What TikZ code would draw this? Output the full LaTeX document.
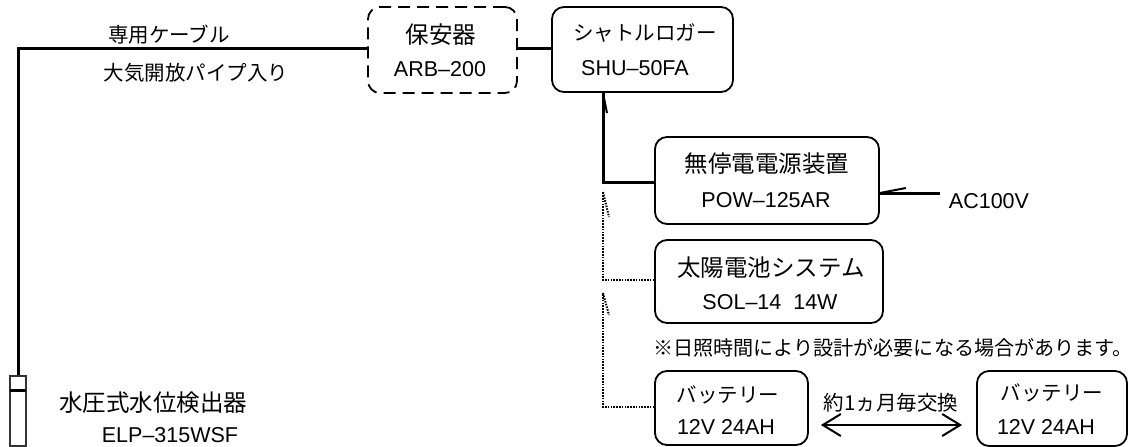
\documentclass[tikz,border=0pt]{standalone}
\usetikzlibrary{arrows.meta}
\usepackage{fontspec}
\setmainfont{Noto Sans CJK JP}
\newfontfamily\lat{Liberation Sans}
\tikzset{
 boxn/.style={draw,line width=1.8pt,rounded corners=12pt,inner sep=0pt},
 wire/.style={line width=3pt},
 thinwire/.style={line width=2pt},
 dots/.style={line width=2pt,dash pattern=on 1.5pt off 1.3pt},
 lab/.style={inner sep=0pt,font=\fontsize{20.5pt}{22pt}\selectfont,anchor=center},
 note/.style={inner sep=0pt,font=\fontsize{20.1pt}{22pt}\selectfont,anchor=center},
 big/.style={inner sep=0pt,font=\fontsize{23.5pt}{25pt}\selectfont,anchor=center},
 mod/.style={inner sep=0pt,font=\lat\fontsize{21.5pt}{23pt}\selectfont,anchor=center},
 swap/.style={line width=2pt,{Straight Barb[length=18pt,width=22pt]}-{Straight Barb[length=18pt,width=22pt]}},
}
\begin{document}
\begin{tikzpicture}[x=1pt,y=-1pt]
\useasboundingbox (0,0) rectangle (1135,447);
\node[boxn,dash pattern=on 12pt off 7pt,minimum width=149pt,minimum height=86pt] (arb) at (442.5,50) {};
\node[boxn,minimum width=181pt,minimum height=85pt] (shu) at (642.5,49.5) {};
\node[boxn,minimum width=224pt,minimum height=87pt] (pow) at (767,180.5) {};
\node[boxn,minimum width=228pt,minimum height=83pt] (sol) at (769,281.5) {};
\node[boxn,minimum width=153pt,minimum height=74pt] (ba) at (731.5,408) {};
\node[boxn,minimum width=150pt,minimum height=75pt] (bb) at (1052,408.5) {};
\node[lab] (t1) at (169,35) {専用ケーブル};
\node[lab] (t2) at (196,73) {大気開放パイプ入り};
\node[big] (t3) at (441,35) {保安器};
\node[mod] (t4) at (440,69) {ARB–200};
\node[lab] (t5) at (645,33) {シャトルロガー};
\node[mod] (t6) at (635,68) {SHU–50FA};
\node[big] (t7) at (767,164) {無停電電源装置};
\node[mod] (t8) at (766,200) {POW–125AR};
\node[big] (t9) at (771,268) {太陽電池システム};
\node[mod] (t10) at (770,302) {SOL–14\ \ 14W};
\node[note] (t11) at (893,348) {※日照時間により設計が必要になる場合があります。};
\node[lab] (t12) at (728,395) {バッテリー};
\node[mod] (t13) at (726,427) {12V 24AH};
\node[lab] (t14) at (1052,393) {バッテリー};
\node[mod] (t15) at (1046,427) {12V 24AH};
\node[lab] (t16) at (891,403) {約1ヵ月毎交換};
\node[mod] (t17) at (989,201) {AC100V};
\node[big] (t18) at (153,403) {水圧式水位検出器};
\node[mod] (t19) at (170,435) {ELP–315WSF};
% sensor
\node[draw,line width=1.6pt,black!80,inner sep=0pt,minimum width=15.5pt,minimum height=70pt] (sen) at (18,411) {};
\coordinate (divL) at (10,390);
\coordinate (divR) at (26,390);
\coordinate (c1) at (18,48);
\coordinate (j) at (603,182);
\coordinate (up) at (603,93);
\coordinate (acend) at (940,193);
\coordinate (d1) at (603,192);
\coordinate (d2) at (603,293);
\draw[wire,line join=miter] (arb.west |- c1) -- (c1) -- (sen.north);
\draw[wire] (divL) -- (divR);
\draw[wire] (arb.east |- c1) -- (shu.west |- c1);
\draw[wire,line join=miter] (pow.west |- j) -- (j) -- (up);
\draw[thinwire] (up) -- ++(4,20);
\draw[wire] (pow.east |- acend) -- (acend);
\draw[thinwire] (pow.east |- acend) -- ++(26,-5);
\draw[dots] (sol.west |- 0,280) -- (d1 |- 0,280) -- (d1);
\draw[dots] (d1) -- ++(6,25);
\draw[dots] (ba.west |- 0,407) -- (d2 |- 0,407) -- (d2);
\draw[dots] (d2) -- ++(6,22);
\draw[swap,shorten <=12pt,shorten >=14pt] (ba.east |- 0,425) -- (bb.west |- 0,425);
\end{tikzpicture}
\end{document}
